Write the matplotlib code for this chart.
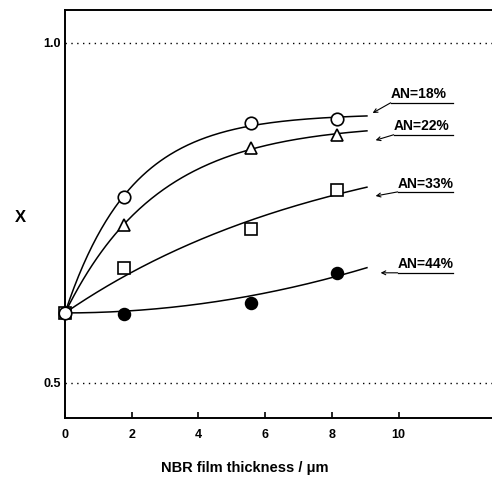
import numpy as np
import matplotlib
matplotlib.use("Agg")
import matplotlib.pyplot as plt

# NBR film thickness (um) for the coated samples
thickness = np.array([1.76, 5.58, 8.15])
# shared uncoated starting value
x_uncoated = 0.0
X_uncoated = 0.603

series_names = ["AN=18%", "AN=22%", "AN=33%", "AN=44%"]
X_an18 = np.array([0.774, 0.882, 0.888])
X_an22 = np.array([0.732, 0.846, 0.865])
X_an33 = np.array([0.669, 0.726, 0.784])
X_an44 = np.array([0.601, 0.618, 0.662])

y_ticks = [0.5, 1.0]
x_ticks = [0, 2, 4, 6, 8, 10]


def saturating_fit(x, y, y0):
    """Least-squares fit of y = y0 + a*(1 - exp(-x/tau))."""
    best = None
    for tau in np.linspace(0.3, 12, 800):
        b = 1 - np.exp(-x / tau)
        a = np.dot(b, y - y0) / np.dot(b, b)
        err = np.sum((y0 + a * b - y) ** 2)
        if best is None or err < best[0]:
            best = (err, a, tau)
    _, a, tau = best
    return lambda t: y0 + a * (1 - np.exp(-t / tau))


def rising_quadratic_fit(x, y, y0):
    """Least-squares fit of y = y0 + c*x^2 (non-decreasing from y0)."""
    b = x ** 2
    c = np.dot(b, y - y0) / np.dot(b, b)
    return lambda t: y0 + c * t ** 2


plt.rcParams["font.family"] = ["Liberation Sans", "DejaVu Sans"]

fig = plt.figure(figsize=(4.92, 4.83), dpi=100)
ax = fig.add_axes([0.1321, 0.1346, 0.868, 0.8447])
ax.set_xlim(0, 12.8)
ax.set_ylim(0.4485, 1.0485)

x_all = np.concatenate([[x_uncoated], thickness])
t = np.linspace(0, 9.05, 200)
fits = [
    saturating_fit(x_all, np.concatenate([[X_uncoated], X_an18]), X_uncoated),
    saturating_fit(x_all, np.concatenate([[X_uncoated], X_an22]), X_uncoated),
    saturating_fit(x_all, np.concatenate([[X_uncoated], X_an33]), X_uncoated),
    rising_quadratic_fit(x_all, np.concatenate([[X_uncoated], X_an44]), X_uncoated),
]
for f in fits:
    ax.plot(t, f(t), color="black", lw=1.1, zorder=2)

mk = dict(ls="none", mec="black", mew=1.2, ms=9, zorder=4, clip_on=False)
ax.plot(thickness, X_an18, marker="o", mfc="white", **mk)
ax.plot(thickness, X_an22, marker="^", mfc="white", **mk)
ax.plot(thickness, X_an33, marker="s", mfc="white", **{**mk, "ms": 8})
ax.plot(thickness, X_an44, marker="o", mfc="black", **{**mk, "ms": 8.5})
ax.plot([x_uncoated], [X_uncoated], marker="s", mfc="white", **{**mk, "ms": 8, "zorder": 5})
ax.plot([x_uncoated], [X_uncoated], marker="o", mfc="white", **{**mk, "zorder": 6})

# reference levels
for yv in y_ticks:
    ax.axhline(yv, color="black", lw=1.0, ls=(0, (1, 3.2)), zorder=1)

# labels with arrows pointing at the curve ends
label_text_xy = [(9.76, 0.912), (9.85, 0.865), (9.97, 0.781), (9.97, 0.662)]
label_tip_xy = [(9.22, 0.897), (9.31, 0.857), (9.31, 0.775), (9.46, 0.662)]
for name, (lx, ly), tip in zip(series_names, label_text_xy, label_tip_xy):
    ax.text(lx, ly + 0.002, name, fontsize=10, fontweight="bold",
            ha="left", va="bottom", zorder=6)
    ax.plot([lx, 11.62], [ly, ly], color="black", lw=0.9, zorder=6)
    ax.annotate("", xy=tip, xytext=(lx, ly),
                arrowprops=dict(arrowstyle="->", lw=0.8, color="black",
                                shrinkA=0, shrinkB=0, mutation_scale=7))

ax.set_xticks(x_ticks)
ax.set_xticklabels([str(v) for v in x_ticks], fontsize=9, fontweight="bold")
ax.set_yticks(y_ticks)
ax.set_yticklabels(["0.5", "1.0"], fontsize=9, fontweight="bold")
ax.tick_params(axis="x", direction="in", length=4, width=1.2, pad=8)
ax.tick_params(axis="y", length=0, pad=3)

ax.spines["right"].set_visible(False)
for s in ["left", "bottom", "top"]:
    ax.spines[s].set_linewidth(1.4)

fig.text(245 / 492, 1 - 468 / 483, "NBR film thickness / μm", fontsize=10.5,
         fontweight="bold", ha="center", va="center")
fig.text(20 / 492, 1 - 218 / 483, "X", fontsize=12, fontweight="bold",
         ha="center", va="center")

fig.savefig("out.png", dpi=100)
